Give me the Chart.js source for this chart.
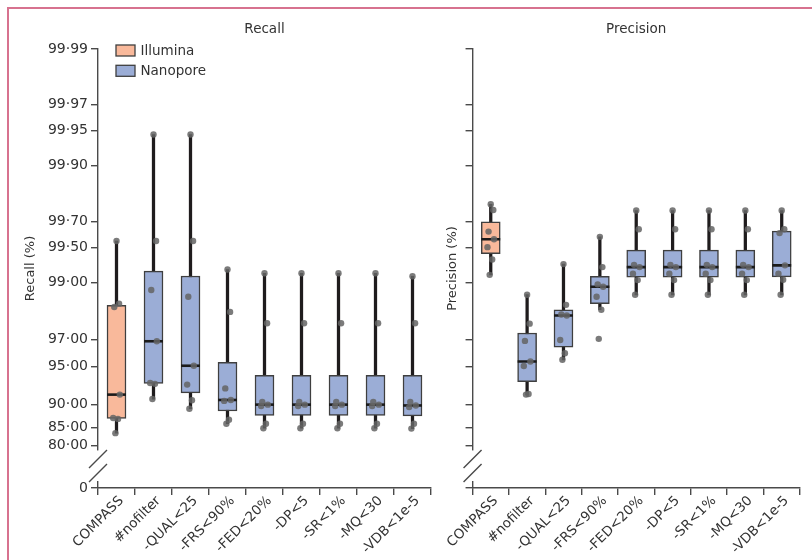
<!DOCTYPE html>
<html><head><meta charset="utf-8">
<script src="https://cdn.jsdelivr.net/npm/chart.js@4.4.1/dist/chart.umd.min.js"></script>
<style>
html,body{margin:0;padding:0;background:#fff;}
#wrap{position:relative;width:812px;height:560px;overflow:hidden;background:#fff;}
#frame{position:absolute;left:7px;top:7px;width:900px;height:700px;border-top:2px solid #d7728f;border-left:2px solid #d7728f;}
#c1{position:absolute;left:0;top:0;}
#c2{position:absolute;left:445px;top:0;}
</style></head>
<body>
<div id="wrap">
  <div id="frame"></div>
  <canvas id="c1" width="445" height="560"></canvas>
  <canvas id="c2" width="367" height="560"></canvas>
</div>
<script>
// ---------- data ----------
const categories = ['COMPASS', '#nofilter', '-QUAL<25', '-FRS<90%', '-FED<20%', '-DP<5', '-SR<1%', '-MQ<30', '-VDB<1e-5'];
const platforms = ['Illumina', 'Nanopore', 'Nanopore', 'Nanopore', 'Nanopore', 'Nanopore', 'Nanopore', 'Nanopore', 'Nanopore'];
const yTickValues = [0, 80, 85, 90, 95, 97, 99, 99.5, 99.7, 99.9, 99.95, 99.97, 99.99];

// per-sample recall (%) for each pipeline
const recallCOMPASS  = [99.56, 98.5, 98.4, 91.6, 87.3, 87.1, 83.6];
const recallNofilter = [99.946, 99.56, 98.85, 96.9, 93.2, 93.1, 90.9];
const recallQUAL     = [99.946, 99.56, 98.69, 95.07, 93.0, 90.7, 89.2];
const recallFRS      = [99.23, 98.24, 92.5, 90.75, 90.6, 86.9, 86.0];
const recallFED      = [99.17, 97.81, 90.4, 89.95, 89.7, 86.0, 84.9];
const recallDP       = [99.17, 97.81, 90.4, 89.95, 89.7, 86.0, 84.9];
const recallSR       = [99.17, 97.81, 90.4, 89.95, 89.7, 86.0, 84.9];
const recallMQ       = [99.17, 97.81, 90.4, 89.95, 89.7, 86.0, 84.9];
const recallVDB      = [99.12, 97.81, 90.4, 89.8, 89.5, 86.0, 84.8];

// per-sample precision (%) for each pipeline
const precCOMPASS  = [99.786, 99.761, 99.634, 99.575, 99.503, 99.367, 99.145];
const precNofilter = [98.74, 97.79, 96.92, 95.45, 95.04, 91.7, 91.6];
const precQUAL     = [99.307, 98.465, 98.15, 98.11, 96.97, 96.1, 95.59];
const precFRS      = [99.594, 99.265, 98.97, 98.92, 98.69, 98.31, 97.04];
const precFED      = [99.758, 99.651, 99.297, 99.265, 99.162, 99.052, 98.737];
const precDP       = [99.758, 99.651, 99.297, 99.265, 99.162, 99.052, 98.737];
const precSR       = [99.758, 99.651, 99.297, 99.265, 99.162, 99.052, 98.737];
const precMQ       = [99.758, 99.651, 99.297, 99.265, 99.162, 99.052, 98.737];
const precVDB      = [99.758, 99.651, 99.623, 99.29, 99.162, 99.06, 98.737];

const recallSamples = [recallCOMPASS, recallNofilter, recallQUAL, recallFRS, recallFED, recallDP, recallSR, recallMQ, recallVDB];
const precisionSamples = [precCOMPASS, precNofilter, precQUAL, precFRS, precFED, precDP, precSR, precMQ, precVDB];

// ---------- styling ----------
const COLORS = { Illumina: '#f9b99b', Nanopore: '#9badd6' };
const EDGE = '#3f3f3f';
const AXIS = '#4a4a4a';
const TEXT = '#333333';
const FONT = 'DejaVu Sans';
const JITTER = [0.0, 0.07, -0.06, 0.09, -0.09, 0.04, -0.03];

// ---------- logit scale (axis break at 0) ----------
const logit = p => Math.log(p / (100 - p));
const L_MAX = logit(99.99);
const L_ZERO = logit(80) - 0.84; // where the broken axis puts 0

class LogitScale extends Chart.LinearScale {
  static id = 'logit';
  static defaults = {};
  _t(v) { return v <= 0 ? L_ZERO : logit(Math.min(v, 99.9999)); }
  getPixelForValue(value) {
    return this.getPixelForDecimal((this._t(value) - L_ZERO) / (L_MAX - L_ZERO));
  }
  getValueForPixel(pixel) {
    const t = L_ZERO + this.getDecimalForPixel(pixel) * (L_MAX - L_ZERO);
    return 100 / (1 + Math.exp(-t));
  }
}
Chart.register(LogitScale);

// ---------- box statistics ----------
function quantile(s, q) {
  const pos = (s.length - 1) * q, lo = Math.floor(pos), hi = Math.ceil(pos);
  return s[lo] + (s[hi] - s[lo]) * (pos - lo);
}
function boxStats(vals) {
  const s = [...vals].sort((a, b) => a - b);
  const q1 = quantile(s, 0.25), med = quantile(s, 0.5), q3 = quantile(s, 0.75);
  const iqr = q3 - q1;
  const lo = s.find(v => v >= q1 - 1.5 * iqr);
  const hi = [...s].reverse().find(v => v <= q3 + 1.5 * iqr);
  return { q1, med, q3, lo, hi };
}

// ---------- plugins ----------
const axisBreak = {
  id: 'axisBreak',
  afterDraw(chart) {
    const y = chart.scales.y, ctx = chart.ctx;
    const ax = chart.chartArea.left;
    const p80 = y.getPixelForValue(80), p0 = y.getPixelForValue(0);
    ctx.save();
    ctx.fillStyle = '#fff';
    ctx.fillRect(ax - 3, p80 + 5, 6, (p0 - 7) - (p80 + 5));
    ctx.strokeStyle = AXIS; ctx.lineWidth = 1.4;
    ctx.beginPath();
    ctx.moveTo(ax + 9, p80 + 4.5); ctx.lineTo(ax - 9, p80 + 22.5);
    ctx.moveTo(ax + 9, p80 + 18.5); ctx.lineTo(ax - 9, p80 + 36.5);
    ctx.stroke();
    ctx.restore();
  }
};
const boxLegend = {
  id: 'boxLegend',
  afterDraw(chart, args, opts) {
    if (!opts.show) return;
    const ctx = chart.ctx, a = chart.chartArea;
    const items = ['Illumina', 'Nanopore'];
    ctx.save();
    ctx.font = '13.5px "' + FONT + '"';
    ctx.textBaseline = 'middle';
    items.forEach((lab, i) => {
      const bx = a.left + 18, by = a.top - 4 + i * 20.3;
      ctx.fillStyle = COLORS[lab];
      ctx.fillRect(bx, by, 19, 11);
      ctx.strokeStyle = EDGE; ctx.lineWidth = 1.3;
      ctx.strokeRect(bx, by, 19, 11);
      ctx.fillStyle = TEXT;
      ctx.fillText(lab, bx + 24.5, by + 6);
    });
    ctx.restore();
  }
};

function fmtTick(v) { return v === 0 ? '0' : v.toFixed(2).replace('.', '\u00b7'); }

function makeChart(id, panelTitle, yTitle, samples, opts) {
  const stats = samples.map(boxStats);
  const fills = platforms.map(p => COLORS[p]);
  const pts = [];
  samples.forEach((arr, i) => arr.forEach((v, k) => pts.push({ x: i + JITTER[k % JITTER.length], y: v })));
  return new Chart(document.getElementById(id), {
    type: 'bar',
    data: {
      labels: categories,
      datasets: [
        { type: 'scatter', label: 'samples', data: pts, xAxisID: 'xj', yAxisID: 'y', order: 0,
          pointRadius: 3.2, pointBackgroundColor: 'rgba(100,100,100,0.85)', pointBorderWidth: 0 },
        { type: 'scatter', label: 'median', data: stats.map((s, i) => ({ x: i, y: s.med })), xAxisID: 'xj', yAxisID: 'y', order: 1,
          pointStyle: 'line', pointRadius: 9.5, pointBorderWidth: 2.6, pointBorderColor: '#1b1b1b' },
        { type: 'bar', label: 'box', data: stats.map(s => [s.q1, s.q3]), xAxisID: 'x', yAxisID: 'y', order: 2,
          backgroundColor: fills, borderColor: EDGE, borderWidth: 1.5, borderSkipped: false, barThickness: 19, grouped: false },
        { type: 'bar', label: 'whisker', data: stats.map(s => [s.lo, s.hi]), xAxisID: 'x', yAxisID: 'y', order: 3,
          backgroundColor: '#1f1c1d', borderWidth: 0, barThickness: 2.6, grouped: false }
      ]
    },
    options: {
      responsive: false, animation: false, devicePixelRatio: 1,
      layout: { padding: { left: 0, right: opts.rightPad, top: 0, bottom: 0 } },
      plugins: { legend: { display: false }, tooltip: { enabled: false }, boxLegend: { show: opts.legend } },
      scales: {
        x: {
          type: 'category', position: 'bottom', offset: true,
          grid: { offset: true, drawOnChartArea: false, tickLength: 7, color: AXIS, lineWidth: 1.4 },
          border: { color: AXIS, width: 1.4 },
          ticks: { autoSkip: false, maxRotation: 45, minRotation: 45, padding: -2, labelOffset: 5, color: TEXT, font: { family: FONT, size: 13.5 } },
          afterFit(s) { s.height = 72; }
        },
        xt: {
          type: 'category', position: 'top', offset: true,
          grid: { display: false }, border: { display: false }, ticks: { display: false },
          title: { display: true, text: panelTitle, color: TEXT, font: { family: FONT, size: 13.5 }, padding: { top: 21, bottom: 0 } },
          afterFit(s) { s.height = 49; }
        },
        xj: {
          type: 'linear', display: false, position: 'bottom', offset: false, bounds: 'data', grace: 0,
          grid: { offset: false }, min: -0.5, max: 8.5,
          afterDataLimits(s) { s.min = -0.5; s.max = 8.5; }
        },
        y: {
          type: 'logit', position: 'left', min: 0, max: 99.99,
          afterBuildTicks(s) { s.ticks = yTickValues.map(v => ({ value: v })); },
          grid: { drawOnChartArea: false, tickLength: 7, color: AXIS, lineWidth: 1.4 },
          border: { color: AXIS, width: 1.4 },
          ticks: { display: opts.yLabels, autoSkip: false, callback: fmtTick, padding: 3, color: TEXT, font: { family: FONT, size: 14 } },
          title: { display: true, text: yTitle, color: TEXT, font: { family: FONT, size: 13 }, padding: { top: opts.titlePad, bottom: 0 } },
          afterFit(s) { s.width = opts.yWidth; }
        }
      }
    },
    plugins: [axisBreak, boxLegend]
  });
}

makeChart('c1', 'Recall', 'Recall (%)', recallSamples, { yLabels: true, yWidth: 98, rightPad: 14, legend: true, titlePad: 23 });
makeChart('c2', 'Precision', 'Precision (%)', precisionSamples, { yLabels: false, yWidth: 27.5, rightPad: 4, legend: false, titlePad: 0 });
</script>
</body></html>
